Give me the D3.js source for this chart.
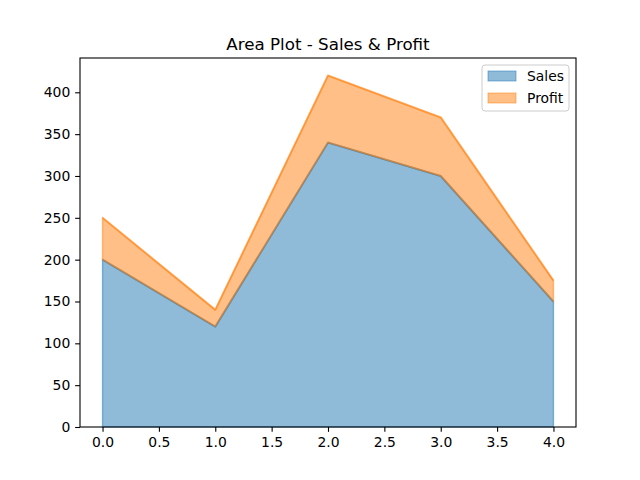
<!DOCTYPE html>
<html>
<head>
<meta charset="utf-8">
<script src="https://cdn.jsdelivr.net/npm/d3@7"></script>
<style>
  body { margin: 0; background: #fff; }
  text { font-family: "DejaVu Sans", sans-serif; }
</style>
</head>
<body>
<svg id="chart" width="640" height="480"></svg>
<script>
// data
const xs = [0, 1, 2, 3, 4];
const sales = [200, 120, 340, 300, 150];
const profit = [50, 20, 80, 70, 25];
const seriesNames = ["Sales", "Profit"];
const colors = ["#1f77b4", "#ff7f0e"];
const xTicks = [0, 0.5, 1, 1.5, 2, 2.5, 3, 3.5, 4];
const yTicks = [0, 50, 100, 150, 200, 250, 300, 350, 400];

const margin = { top: 58, right: 64, bottom: 53, left: 80 },
    width = 640 - margin.left - margin.right,
    height = 480 - margin.top - margin.bottom;

const svg = d3.select("#chart");
const g = svg.append("g").attr("transform", `translate(${margin.left},${margin.top})`);

const rows = xs.map((x, i) => ({ x: x, Sales: sales[i], Profit: profit[i] }));
const stacked = d3.stack().keys(seriesNames)(rows);

const maxY = d3.max(stacked[stacked.length - 1], d => d[1]);
const x = d3.scaleLinear().domain([-0.2, 4.2]).range([0, width]);
const y = d3.scaleLinear().domain([0, maxY * 1.05]).range([height, 0]);

const area = d3.area()
    .x(d => x(d.data.x))
    .y0(d => y(d[0]))
    .y1(d => y(d[1]));
const line = d3.line()
    .x(d => x(d.data.x))
    .y(d => y(d[1]));

// line first, then the translucent fill over it (like pandas)
stacked.forEach((s, i) => {
    g.append("path")
        .datum(s)
        .attr("d", line)
        .attr("fill", "none")
        .attr("stroke", colors[i])
        .attr("stroke-opacity", 0.5)
        .attr("stroke-width", 2.08)
        .attr("stroke-linejoin", "round");
    g.append("path")
        .datum(s)
        .attr("d", area)
        .attr("fill", colors[i])
        .attr("fill-opacity", 0.5)
        .attr("stroke", colors[i])
        .attr("stroke-opacity", 0.5)
        .attr("stroke-width", 1.39);
});

// axes
const xAxis = g.append("g")
    .attr("transform", `translate(0,${height})`)
    .call(d3.axisBottom(x).tickValues(xTicks).tickFormat(d3.format(".1f")).tickSizeOuter(0).tickSize(4.86).tickPadding(4.86));
const yAxis = g.append("g")
    .call(d3.axisLeft(y).tickValues(yTicks).tickFormat(d3.format("d")).tickSizeOuter(0).tickSize(4.86).tickPadding(4.86));

[xAxis, yAxis].forEach(a => {
    a.selectAll("text").style("font-family", "DejaVu Sans").style("font-size", "13.9px").attr("fill", "#000");
    a.selectAll("line").attr("stroke", "#000").attr("stroke-width", 1.1);
    a.select(".domain").remove();
});

// frame
g.append("rect")
    .attr("width", width)
    .attr("height", height)
    .attr("fill", "none")
    .attr("stroke", "#000")
    .attr("stroke-width", 1.1);

// title
svg.append("text")
    .attr("x", margin.left + width / 2)
    .attr("y", margin.top - 8)
    .attr("text-anchor", "middle")
    .style("font-size", "16.7px")
    .text("Area Plot - Sales & Profit");

// legend
const lg = g.append("g").attr("transform", `translate(${width - 94},7)`);
lg.append("rect")
    .attr("width", 87)
    .attr("height", 46)
    .attr("rx", 3)
    .attr("fill", "#fff")
    .attr("fill-opacity", 0.8)
    .attr("stroke", "#ccc")
    .attr("stroke-width", 1);

lg.selectAll(".lgbox")
    .data(seriesNames)
    .enter()
    .append("rect")
    .attr("x", 6)
    .attr("y", (d, i) => 6 + i * 22)
    .attr("width", 28)
    .attr("height", 10)
    .attr("fill", (d, i) => colors[i])
    .attr("fill-opacity", 0.5)
    .attr("stroke", (d, i) => colors[i])
    .attr("stroke-opacity", 0.5);

lg.selectAll(".lglabel")
    .data(seriesNames)
    .enter()
    .append("text")
    .attr("x", 45)
    .attr("y", (d, i) => 16 + i * 22)
    .style("font-size", "13.9px")
    .text(d => d);
</script>
</body>
</html>
